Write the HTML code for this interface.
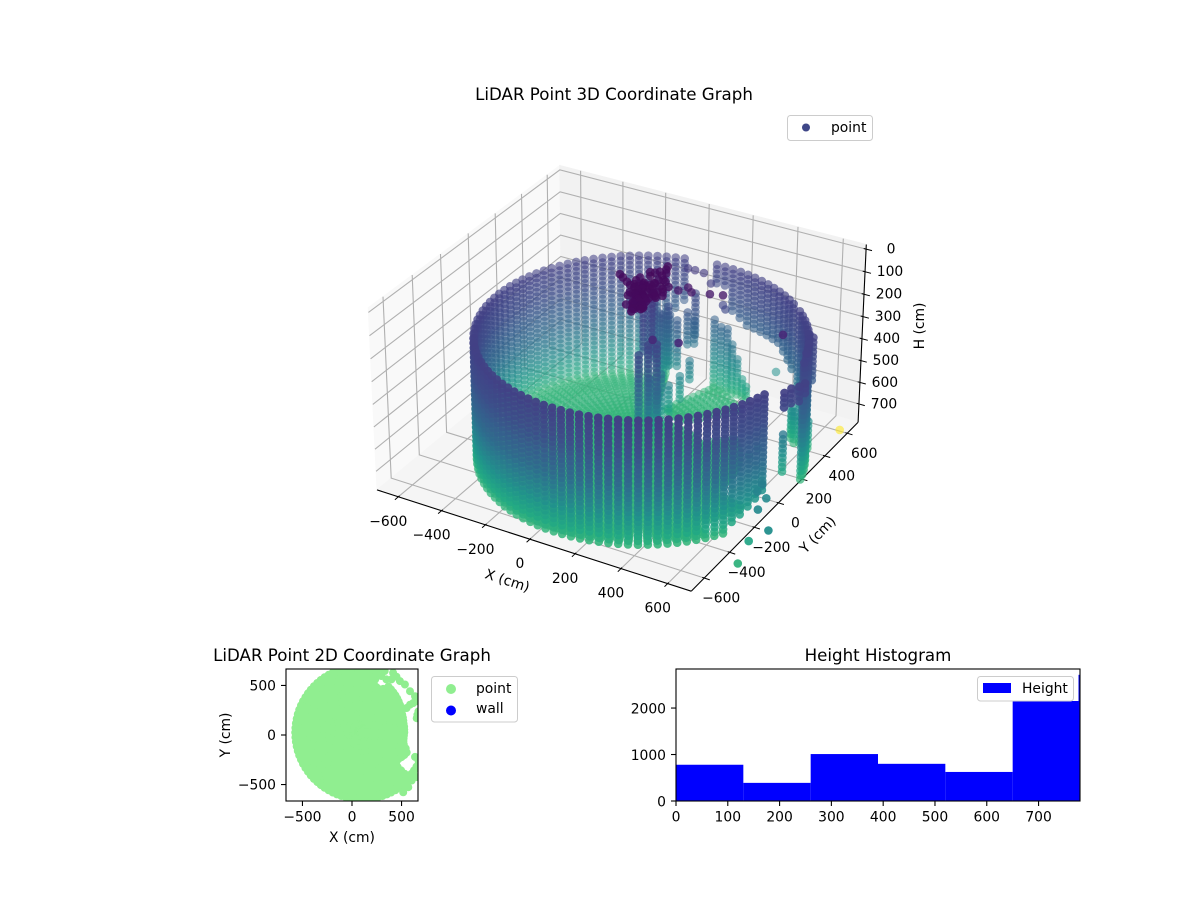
<!DOCTYPE html>
<html lang="en">
<head>
<meta charset="utf-8">
<title>LiDAR Point Graphs</title>
<style>
html,body{margin:0;padding:0;background:#fff;}
svg{display:block;}
text{font-family:"DejaVu Sans","Liberation Sans",sans-serif;font-size:13.89px;fill:#000;}
.title{font-size:16.67px;text-anchor:middle;}
</style>
</head>
<body>
<svg id="fig" xmlns="http://www.w3.org/2000/svg" width="1200" height="900" viewBox="0 0 1200 900">
  <defs>
    <clipPath id="plan-clip"><rect x="286" y="669" width="132" height="132"/></clipPath>
    <clipPath id="hist-clip"><rect x="676" y="669" width="404" height="132"/></clipPath>
  </defs>
  <text class="title" x="614" y="100">LiDAR Point 3D Coordinate Graph</text>
  <g id="axes3d"></g>
  <g id="scatter3d"></g>
  <g id="labels3d"></g>
  <text x="0" y="0" transform="translate(506,585) rotate(18)" text-anchor="middle">X (cm)</text>
  <text x="0" y="0" transform="translate(821,538) rotate(-46)" text-anchor="middle">Y (cm)</text>
  <text x="0" y="0" transform="translate(924,326) rotate(-90)" text-anchor="middle">H (cm)</text>
  <g>
    <rect x="787.5" y="115.5" width="85" height="25" rx="3" fill="#fff" fill-opacity="0.8" stroke="#cccccc"/>
    <circle cx="806" cy="127.5" r="4" fill="#3f4788"/>
    <text x="831" y="132">point</text>
  </g>

  <text class="title" x="352" y="661">LiDAR Point 2D Coordinate Graph</text>
  <g id="plan" clip-path="url(#plan-clip)"></g>
  <rect x="286" y="669" width="132" height="132" fill="none" stroke="#000" stroke-width="1.1"/>
  <g id="planAxes"></g>
  <text x="352" y="842" text-anchor="middle">X (cm)</text>
  <text x="0" y="0" transform="translate(230,735) rotate(-90)" text-anchor="middle">Y (cm)</text>
  <g>
    <rect x="431.5" y="676.5" width="86" height="45.5" rx="3" fill="#fff" stroke="#cccccc"/>
    <circle cx="451" cy="689" r="5" fill="#90ee90"/>
    <text x="476" y="693">point</text>
    <circle cx="451" cy="710.5" r="5" fill="#0000ff"/>
    <text x="476" y="713">wall</text>
  </g>

  <text class="title" x="878" y="661">Height Histogram</text>
  <g id="hist" clip-path="url(#hist-clip)"></g>
  <g>
    <rect x="1012" y="669" width="66.5" height="32" fill="#fff"/>
    <rect x="977.5" y="676.5" width="96" height="24.5" rx="3" fill="#fff" stroke="#cccccc"/>
    <rect x="983" y="683" width="28" height="10" fill="#0000ff"/>
    <text x="1022" y="693">Height</text>
  </g>
  <rect x="676" y="669" width="404" height="132" fill="none" stroke="#000" stroke-width="1.1"/>
  <g id="histAxes"></g>
</svg>
<script>
/* ---------- 3D chart data (cm) ---------- */
const xTicks3d = [-600,-400,-200,0,200,400,600];
const yTicks3d = [-600,-400,-200,0,200,400,600];
const hTicks3d = [0,100,200,300,400,500,600,700];
const xLimits = [-700,700];
const yLimits = [-700,700];
const hLimits = [785,-20];

/* scan rows shared by walls and standing objects */
const scanLevels = [180,202,225,246,267,288,309,330,351,372,393,414,435,456,477,498,519,540,561,582,603,624,645,666,687,708,729,750,768];

/* wall columns on the room circle */
const wallAzimuth = [13.3,16.6,19.9,23.2,26.5,29.8,33.1,36.4,39.7,43,46.3,
  52,55.3,58.6,61.9,65.2,68.5,71.8,75.1,78.4,81.7,85,88.3,91.6,
  104,107.3,110.6,113.9,117.2,120.5,123.8,127.1,130.4,133.7,137,140.3,143.6,146.9,150.2,153.5,156.8,160.1,163.4,166.7,170,173.3,176.6,179.9,183.2,186.5,189.8,193.1,196.4,199.7,203,206.3,209.6,212.9,216.2,219.5,222.8,226.1,229.4,232.7,236,239.3,242.6,245.9,249.2,252.5,255.8,259.1,262.4,265.7,269,272.3,275.6,278.9,282.2,285.5,288.8,292.1,295.4,298.7,302,305.3,308.6,311.9,315.2,318.5,321.8,325.1,328.4,331.7,335,338.3,341.6,344.9];
const wallTop = [246,225,225,225,225,225,225,225,225,225,225,
  225,225,225,225,225,225,225,225,225,225,225,225,225,
  225,225,225,225,225,225,225,225,225,225,225,225,225,225,225,225,225,225,225,225,225,225,225,225,225,225,225,225,225,225,225,225,225,225,225,225,225,225,225,225,225,225,225,225,225,225,225,225,225,225,225,225,225,225,225,225,225,225,225,225,225,225,225,225,225,225,225,225,225,225,225,225,225,225,225];
const wallBottom = [768,768,768,768,768,768,768,729,687,645,600,
  520,500,480,470,470,470,470,470,460,450,430,320,320,
  420,470,768,768,768,768,768,768,768,768,768,768,768,768,768,768,768,768,768,768,768,768,768,768,768,768,768,768,768,768,768,768,768,768,768,768,768,768,768,768,768,768,768,768,768,768,768,768,768,768,768,768,768,768,768,768,768,768,768,768,768,768,768,768,768,768,768,768,768,729,708,687,666,645,414,372];

/* floor rays on the main floor */
const floorAzimuth = [110.6,113.9,117.2,120.5,123.8,127.1,130.4,133.7,137,140.3,143.6,146.9,150.2,153.5,156.8,160.1,163.4,166.7,170,173.3,176.6,179.9,183.2,186.5,189.8,193.1,196.4,199.7,203,206.3,209.6,212.9,216.2,219.5,222.8,226.1,229.4,232.7,236,239.3,242.6,245.9,249.2,252.5,255.8,259.1,262.4,265.7,269,272.3,275.6,278.9,282.2,285.5,288.8,292.1,295.4,298.7,302,305.3,308.6,311.9,315.2,318.5,321.8];
const floorRadii = [625,605,585,565,545,525,500,475,450,425,400,375,350,325,300,275,250,225,200,175,150,125,100,75,50,25];
const floorHeight = [768];

/* floor rays on the south-east, shorter behind the wall */
const floorSouthEastAzimuth = [325.1,328.4,331.7,335,338.3,341.6,344.9];
const floorSouthEastRadii = [540,515,490,465,440,415,390,365,340,315,290,265,240,215,190,165,140,115,90,65,40];

/* shorter floor rays on the partly shadowed east side */
const floorEastAzimuth = [348,351,354,357,0,3,6,9,12,15,18,21,24,27,30,33,36,39,42,45,48];
const floorEastRadii = [390,360,330,300,270,240,210,180,150,120,90,60,30];

/* short floor rays toward the north gap */
const floorNorthAzimuth = [51,55,59,63,67,71,75,79,83,87,91,95,99,103,107];
const floorNorthRadii = [250,220,190,160,130,100,70,40];

/* detached floor fan on the far right */
const fanAzimuth = [49,52,55,58,61,64,67,70];
const fanRadii = [315,345,375,405,435,465,495,525,550,575];

/* standing objects: column base position, top and bottom heights */
const objectX = [-17,105,-81,-94,-88,0,21,47,57,45, 70,105,135,160,183,209,235, 647,532,579,625, 762,770,789,797, 665, 10,130,75, 640,655, 560,600,520, -72,-54,-22,25,42,75,45];
const objectY = [200,22,398,497,543,531,550,386,448,234, 633,625,624,620,623,619,606, 129,428,411,393, -102,-61,-33,0, 329, 215,45,0, 345,310, 400,400,460, 433,467,485,550,147,151,297];
const objectTop = [180,260,300,400,430,380,430,600,560,500, 450,468,473,532,583,670,688, 561,645,645,645, 225,225,225,225, 225, 180,260,300, 225,246, 624,624,645, 360,340,400,300,480,520,600];
const objectBottom = [432,604,575,720,673,540,545,715,650,768, 768,768,768,768,768,768,768, 729,768,768,768, 288,300,288,267, 414, 430,600,620, 420,400, 768,768,768, 635,640,630,506,768,768,730];

/* dark ceiling cluster near the room centre */
const clusterX = [-60,-34,-5,17,43,68,74,79,85,90,93,90,77,67,90,92,98,123,149,122,139,133,126,132,126,49,106,56,22,56,54,55,110,70,40,100,80,60,115,95,
  70,80,90,100,110,120,130,140,85,95,105,115,125,135,75,65,100,115,130,145,110,125,135,150,90,105,120,60,50,40,30,
  153,149,124,67,153,34,20,140,110,95,165];
const clusterY = [87,66,47,33,20,7,29,50,72,92,121,156,211,242,-16,-51,-84,-105,-117,-141,-77,-27,15,44,77,-39,12,73,71,-17,126,162,-60,-90,-10,40,-40,20,-90,90,
  -20,-30,-40,-50,-60,-70,-80,-90,0,-10,-20,-30,-40,-50,30,50,60,40,20,0,-110,-120,-100,-100,-75,-95,-130,60,40,30,45,
  48,0,121,179,93,160,106,70,130,180,25];
const clusterH = [30,28,30,32,30,34,30,28,30,32,30,28,30,34,36,30,32,34,30,36,38,30,34,36,30,34,30,30,28,34,26,28,40,44,36,30,38,34,38,30,
  30,32,34,30,36,30,34,30,32,30,28,34,30,32,30,28,30,34,32,30,36,34,30,32,36,34,30,28,30,32,30,
  34,36,30,28,32,30,32,34,30,28,36];

/* isolated returns */
const strayX = [780,772,858,771,762,725,730,506,488,330,629,315,218,156,178,208,277,325,-7,25,67,116,192,200];
const strayY = [-485,-385,-394,-314,-228,-232,-202,193,155,684,137,-116,-145,166,206,178,200,218,543,543,540,509,472,478];
const strayH = [760,720,640,620,620,600,580,700,720,650,130,130,130,80,80,80,80,80,200,200,200,220,280,300];

/* single outlier drawn in the top of the colour map */
const outlierX = [666];
const outlierY = [601];
const outlierH = [780];
const outlierColourValue = [1200];

/* viridis colour stops and the height values they correspond to */
const viridisStops = ["#440154","#482475","#414487","#355f8d","#2a788e","#21918c","#22a884","#44bf70","#7ad151","#bddf26","#fde725"];
const colourHeights = [0,225,333,510,650,768,1200];
const colourFractions = [0,0.19,0.23,0.35,0.5,0.65,1];
const ringCentre = [75,20];
const ringRadius = [650];

/* ---------- 2D chart data ---------- */
const planTicks = [-500,0,500];
const planLimits = [-666,666];
const planCentre = [100,25];
const planAzimuth = [0,4,8,12,16,20,24,28,32,36,40,44,48,52,56,60,64,68,72,76,80,84,88,92,96,100,104,108,112,116,120,124,128,132,136,140,144,148,152,156,160,164,168,172,176,180,184,188,192,196,200,204,208,212,216,220,224,228,232,236,240,244,248,252,256,260,264,268,272,276,280,284,288,292,296,300,304,308,312,316,320,324,328,332,336,340,344,348,352,356];
const planReach = [428,428,430,430,435,440,445,455,460,475,485,495,505,515,525,535,490,470,480,673,673,673,673,673,673,673,673,673,673,673,673,673,673,673,673,673,673,673,673,673,673,673,673,673,673,673,673,673,673,673,673,673,673,673,673,673,673,673,673,673,673,673,673,673,673,673,673,673,673,673,673,673,673,673,673,673,673,673,673,673,455,455,470,485,495,470,440,428,425,425];
const planRadii = [0,50,100,150,200,250,300,350,400,450,500,550,600,650];
const planWallX = [415,330,449,483,534,585,636,670,619,551,585,653,660,670,245,296,347,398,598,626,651,674,694,636,653,619,602,568,517,653,670,534];
const planWallY = [629,646,588,544,510,442,391,340,323,272,306,170,204,238,595,595,561,561,-393,-357,-319,-280,-239,-221,-323,-391,-459,-527,-578,-425,-255,-187];

/* ---------- histogram data ---------- */
const binEdges = [0,130,260,390,520,650,780];
const binCounts = [780,390,1010,800,625,2715];
const histXTicks = [0,100,200,300,400,500,600,700];
const histYTicks = [0,1000,2000];
const histXLimits = [0,780];
const histYLimits = [0,2840];

/* ---------- helpers ---------- */
const NS = 'http://www.w3.org/2000/svg';
function make(parent, tag, attrs, text){
  const el = document.createElementNS(NS, tag);
  for (const k in attrs) el.setAttribute(k, attrs[k]);
  if (text !== undefined) el.textContent = text;
  document.getElementById(parent).appendChild(el);
  return el;
}
function tickText(v){ return String(v).replace('-', '\u2212'); }
function hexToRgb(h){ return [parseInt(h.slice(1,3),16),parseInt(h.slice(3,5),16),parseInt(h.slice(5,7),16)]; }
function viridis(t){
  const c = Math.max(0, Math.min(1, t)) * (viridisStops.length - 1);
  const i = Math.min(Math.floor(c), viridisStops.length - 2);
  const f = c - i, a = hexToRgb(viridisStops[i]), b = hexToRgb(viridisStops[i + 1]);
  return 'rgb(' + [0,1,2].map(k => Math.round(a[k] + (b[k] - a[k]) * f)).join(',') + ')';
}
function heightColour(v){
  let i = 0;
  while (i < colourHeights.length - 2 && v > colourHeights[i + 1]) i++;
  const f = (v - colourHeights[i]) / (colourHeights[i + 1] - colourHeights[i]);
  return viridis(colourFractions[i] + f * (colourFractions[i + 1] - colourFractions[i]));
}

/* ---------- camera (elevation 30, azimuth -60) ---------- */
const boxA = 0.595, boxC = 0.345, camScale = 3010, camX = 622, camY = 367;
function project(x, y, h){
  const nx = ((x - xLimits[0]) / (xLimits[1] - xLimits[0]) - 0.5) * 2 * boxA;
  const ny = ((y - yLimits[0]) / (yLimits[1] - yLimits[0]) - 0.5) * 2 * boxA;
  const nz = ((h - hLimits[0]) / (hLimits[1] - hLimits[0]) - 0.5) * 2 * boxC;
  const xv = 0.866025 * nx + 0.5 * ny;
  const yv = -0.25 * nx + 0.433013 * ny + 0.866025 * nz;
  const d = 10 - (0.433013 * nx - 0.75 * ny + 0.5 * nz);
  return {px: camX + camScale * xv / d, py: camY - camScale * yv / d, depth: d};
}
function pathOf(pts){
  return pts.map((p, i) => (i ? 'L' : 'M') + p.px.toFixed(1) + ' ' + p.py.toFixed(1)).join(' ');
}

/* ---------- panes, grid, axes ---------- */
const xa = xLimits[0], xb = xLimits[1], ya = yLimits[0], yb = yLimits[1], hb = hLimits[0], ht = hLimits[1];
function pane(name, fill, corners){
  const el = make('axes3d', 'path', {d: pathOf(corners) + ' Z', fill: fill, stroke: fill});
  
  
}
pane('left-pane', '#f9f9f9', [project(xa,ya,hb),project(xa,yb,hb),project(xa,yb,ht),project(xa,ya,ht)]);
pane('back-pane', '#f2f2f2', [project(xa,yb,hb),project(xb,yb,hb),project(xb,yb,ht),project(xa,yb,ht)]);
pane('floor-pane', '#f5f5f5', [project(xa,ya,hb),project(xb,ya,hb),project(xb,yb,hb),project(xa,yb,hb)]);

function gridLine(name, pts){
  const el = make('axes3d', 'path', {d: pathOf(pts), fill: 'none', stroke: '#b0b0b0', 'stroke-width': 1.1});
  
  
}
xTicks3d.forEach(v => gridLine('x-gridline', [project(v,ya,hb),project(v,yb,hb),project(v,yb,ht)]));
yTicks3d.forEach(v => gridLine('y-gridline', [project(xb,v,hb),project(xa,v,hb),project(xa,v,ht)]));
hTicks3d.forEach(v => gridLine('h-gridline', [project(xb,yb,v),project(xa,yb,v),project(xa,ya,v)]));

function axisLine(name, pts, width){
  const el = make('axes3d', 'path', {d: pathOf(pts), fill: 'none', stroke: '#000', 'stroke-width': width});
  
  
}
axisLine('x-axis-3d-line', [project(xa,ya,hb),project(xb,ya,hb)], 1.1);
axisLine('y-axis-3d-line', [project(xb,ya,hb),project(xb,yb,hb)], 1.1);
axisLine('h-axis-3d-line', [project(xb,yb,hb),project(xb,yb,ht)], 1.1);

function label3d(name, pos, text){
  const el = make('labels3d', 'text', {x: pos.px.toFixed(1), y: pos.py.toFixed(1), 'text-anchor': 'middle'}, text);
  
  
}
xTicks3d.forEach(v => {
  axisLine('x-tick-3d', [project(v,ya+8,hb),project(v,ya-24,hb)], 1);
  const p = project(v,ya,hb);
  label3d('x-tick-3d-label', {px: p.px - 10, py: p.py + 29}, tickText(v));
});
yTicks3d.forEach(v => {
  axisLine('y-tick-3d', [project(xb-8,v,hb),project(xb+24,v,hb)], 1);
  const p = project(xb,v,hb);
  label3d('y-tick-3d-label', {px: p.px + 17, py: p.py + 24.5}, tickText(v));
});
hTicks3d.forEach(v => {
  axisLine('h-tick-3d', [project(xb-10,yb,v),project(xb+26,yb,v)], 1);
  const p = project(xb,yb,v);
  label3d('h-tick-3d-label', {px: p.px + 25, py: p.py + 4.5}, tickText(v));
});

/* ---------- assemble 3D points ---------- */
const cloud = [];
function addPoint(x, y, h, c){ cloud.push({x: x, y: y, h: h, c: c}); }
function ringX(deg, r){ return ringCentre[0] + r * Math.cos(deg * Math.PI / 180); }
function ringY(deg, r){ return ringCentre[1] + r * Math.sin(deg * Math.PI / 180); }

wallAzimuth.forEach((az, i) => {
  scanLevels.forEach(h => {
    if (h >= wallTop[i] && h <= wallBottom[i]) addPoint(ringX(az, ringRadius[0]), ringY(az, ringRadius[0]), h, h);
  });
});
function addFloor(azimuths, radii){
  azimuths.forEach(az => {
    radii.forEach(r => addPoint(ringX(az, r), ringY(az, r), floorHeight[0], floorHeight[0]));
  });
}
addFloor(floorAzimuth, floorRadii);
addFloor(floorSouthEastAzimuth, floorSouthEastRadii);
addFloor(floorEastAzimuth, floorEastRadii);
addFloor(floorNorthAzimuth, floorNorthRadii);
fanAzimuth.forEach(az => {
  fanRadii.forEach(r => addPoint(-120 + r * Math.cos(az * Math.PI / 180), 80 + r * Math.sin(az * Math.PI / 180), floorHeight[0], floorHeight[0]));
});
objectX.forEach((x, i) => {
  scanLevels.forEach(h => {
    if (h >= objectTop[i] && h <= objectBottom[i]) addPoint(x, objectY[i], h, h);
  });
});
clusterX.forEach((x, i) => addPoint(x, clusterY[i], clusterH[i], clusterH[i]));
strayX.forEach((x, i) => addPoint(x, strayY[i], strayH[i], strayH[i]));
outlierX.forEach((x, i) => addPoint(x, outlierY[i], outlierH[i], outlierColourValue[i]));

const drawn = cloud.map(p => {
  const q = project(p.x, p.y, p.h);
  return {px: q.px, py: q.py, depth: q.depth, c: p.c};
});
const depthMin = Math.min.apply(null, drawn.map(p => p.depth));
const depthMax = Math.max.apply(null, drawn.map(p => p.depth));
drawn.sort((a, b) => b.depth - a.depth);
drawn.forEach(p => {
  const shade = 1 - 0.55 * (p.depth - depthMin) / (depthMax - depthMin);
  const dot = make('scatter3d', 'circle', {cx: p.px.toFixed(1), cy: p.py.toFixed(1), r: 4.3, fill: heightColour(p.c), 'fill-opacity': shade.toFixed(2)});
  
  
});

/* ---------- 2D plan ---------- */
function planPx(v){ return 352 + (v - (planLimits[0] + planLimits[1]) / 2) * 132 / (planLimits[1] - planLimits[0]); }
function planPy(v){ return 735 - (v - (planLimits[0] + planLimits[1]) / 2) * 132 / (planLimits[1] - planLimits[0]); }
function planDot(x, y){
  const dot = make('plan', 'circle', {cx: planPx(x).toFixed(1), cy: planPy(y).toFixed(1), r: 4, fill: '#90ee90'});
  
  
}
planAzimuth.forEach((az, i) => {
  const ca = Math.cos(az * Math.PI / 180), sa = Math.sin(az * Math.PI / 180);
  planRadii.forEach(r => {
    if (r < planReach[i]) planDot(planCentre[0] + r * ca, planCentre[1] + r * sa);
  });
  planDot(planCentre[0] + planReach[i] * ca, planCentre[1] + planReach[i] * sa);
});
planWallX.forEach((x, i) => planDot(x, planWallY[i]));

planTicks.forEach(v => {
  const px = planPx(v), py = planPy(v);
  const tx = make('planAxes', 'line', {x1: px, x2: px, y1: 801, y2: 806, stroke: '#000', 'stroke-width': 1.1});
  
  
  const lx = make('planAxes', 'text', {x: px, y: 821.5, 'text-anchor': 'middle'}, tickText(v));
  
  
  const ty = make('planAxes', 'line', {x1: 281, x2: 286, y1: py, y2: py, stroke: '#000', 'stroke-width': 1.1});
  
  
  const ly = make('planAxes', 'text', {x: 276, y: py + 5, 'text-anchor': 'end'}, tickText(v));
  
  
});

/* ---------- histogram ---------- */
function histX(v){ return 676 + (v - histXLimits[0]) * 404 / (histXLimits[1] - histXLimits[0]); }
function histY(v){ return 801 - (v - histYLimits[0]) * 132 / (histYLimits[1] - histYLimits[0]); }
binCounts.forEach((n, i) => {
  const x0 = histX(binEdges[i]), x1 = histX(binEdges[i + 1]), y = histY(n);
  const bar = make('hist', 'rect', {x: x0, y: y, width: x1 - x0, height: 801 - y, fill: '#0000ff'});
  
  
});
histXTicks.forEach(v => {
  const px = histX(v);
  const t = make('histAxes', 'line', {x1: px, x2: px, y1: 801, y2: 806, stroke: '#000', 'stroke-width': 1.1});
  
  
  const l = make('histAxes', 'text', {x: px, y: 821.5, 'text-anchor': 'middle'}, String(v));
  
  
});
histYTicks.forEach(v => {
  const py = histY(v);
  const t = make('histAxes', 'line', {x1: 671, x2: 676, y1: py, y2: py, stroke: '#000', 'stroke-width': 1.1});
  
  
  const l = make('histAxes', 'text', {x: 666, y: py + 5.5, 'text-anchor': 'end'}, String(v));
  
  
});
</script>
</body>
</html>
